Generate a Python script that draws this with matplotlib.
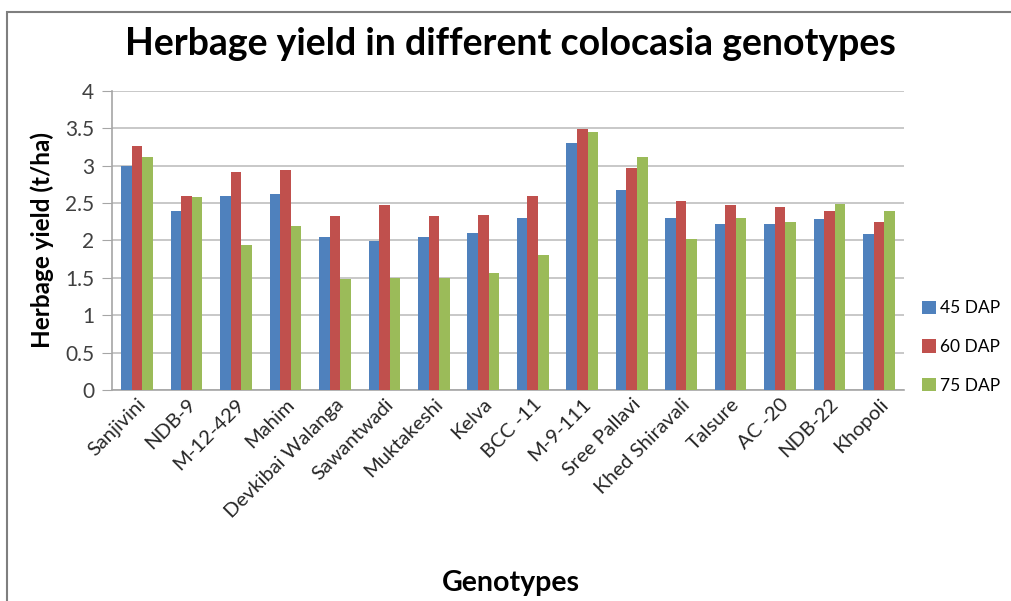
import numpy as np
import matplotlib
matplotlib.use('Agg')
import matplotlib.pyplot as plt
from matplotlib.patches import Rectangle

plt.rcParams['font.family'] = ['Lato', 'DejaVu Sans']

genotypes = ['Sanjivini', 'NDB-9', 'M-12-429', 'Mahim', 'Devkibai Walanga',
             'Sawantwadi', 'Muktakeshi', 'Kelva', 'BCC -11', 'M-9-111',
             'Sree Pallavi', 'Khed Shiravali', 'Talsure', 'AC -20', 'NDB-22', 'Khopoli']
dap45 = [3.00, 2.39, 2.59, 2.62, 2.04, 1.99, 2.04, 2.10, 2.30, 3.30, 2.68, 2.30, 2.22, 2.22, 2.29, 2.09]
dap60 = [3.26, 2.59, 2.91, 2.94, 2.32, 2.47, 2.32, 2.34, 2.60, 3.49, 2.97, 2.52, 2.47, 2.44, 2.39, 2.24]
dap75 = [3.12, 2.58, 1.94, 2.19, 1.49, 1.50, 1.50, 1.57, 1.81, 3.45, 3.11, 2.02, 2.30, 2.25, 2.49, 2.39]
series_names = ['45 DAP', '60 DAP', '75 DAP']
colors = ['#4f81bd', '#c0504d', '#9bbb59']

fig = plt.figure(figsize=(10.11, 6.01), dpi=100)
ax = fig.add_axes([0.111, 0.351, 0.783, 0.498])

x = np.arange(len(genotypes))
w = 0.213
for i, (vals, name, c) in enumerate(zip([dap45, dap60, dap75], series_names, colors)):
    ax.bar(x + (i - 1) * w, vals, w, color=c, label=name, zorder=3)

ax.set_xlim(-0.5, len(genotypes) - 0.5)
ax.set_ylim(0, 4)
ax.set_yticks(np.arange(0, 4.01, 0.5))
ax.set_yticklabels(['0', '0.5', '1', '1.5', '2', '2.5', '3', '3.5', '4'])
ax.grid(axis='y', color='#bfbfbf', linewidth=1.2, zorder=0)
for s in ['top', 'right']:
    ax.spines[s].set_visible(False)
for s in ['left', 'bottom']:
    ax.spines[s].set_color('#a6a6a6')
    ax.spines[s].set_linewidth(1.2)
ax.tick_params(axis='y', length=7, color='#a6a6a6', labelsize=15, labelcolor='#404040', pad=6)
ax.tick_params(axis='x', length=0, labelsize=14.5, labelcolor='#262626', pad=4)
ax.set_xticks(x)
ax.set_xticklabels(genotypes, rotation=45, ha='right', rotation_mode='anchor')

ax.set_ylabel('Herbage yield (t/ha)', fontsize=17.5, fontweight='bold', labelpad=8)
fig.text(0.505, 0.030, 'Genotypes', ha='center', va='center', fontsize=20.5, fontweight='bold')
fig.text(0.505, 0.926, 'Herbage yield in different colocasia genotypes',
         ha='center', va='center', fontsize=27, fontweight='bold')

ax.legend(loc='center left', bbox_to_anchor=(1.012, 0.144), frameon=False, fontsize=12.5,
          borderpad=0, handlelength=0.8, handleheight=0.8, labelspacing=1.3,
          handletextpad=0.25)

# outer chart frame
fig.patches.append(Rectangle((0.007, -0.1), 1.1, 1.08, transform=fig.transFigure,
                             fill=False, edgecolor='#7f7f7f', linewidth=1.5))

fig.savefig('out.png', dpi=100)
